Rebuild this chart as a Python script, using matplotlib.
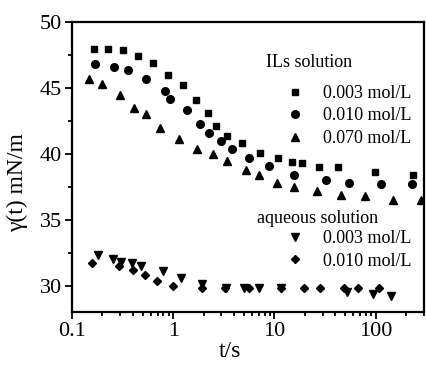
import matplotlib
matplotlib.use('Agg')
import matplotlib.pyplot as plt
from matplotlib.ticker import MultipleLocator, LogLocator, FixedLocator, FixedFormatter

plt.rcParams['font.family'] = ['Liberation Serif', 'DejaVu Serif']

# ILs solution
t_ils_003 = [0.165, 0.227, 0.319, 0.448, 0.63, 0.887, 1.25, 1.67, 2.20, 2.64, 3.39, 4.77,
             7.18, 10.8, 14.9, 18.6, 27.4, 42.3, 98, 232]
g_ils_003 = [48.0, 48.0, 47.9, 47.4, 46.9, 46.0, 45.2, 44.1, 43.1, 42.1, 41.4, 40.8,
             40.1, 39.7, 39.4, 39.3, 39.0, 39.0, 38.6, 38.4]

t_ils_010 = [0.169, 0.260, 0.357, 0.538, 0.828, 0.927, 1.37, 1.83, 2.25, 2.96, 3.80, 5.59,
             8.81, 15.5, 32.2, 54.2, 112, 227]
g_ils_010 = [46.8, 46.6, 46.35, 45.7, 44.8, 44.2, 43.3, 42.3, 41.6, 41.0, 40.4, 39.7,
             39.05, 38.4, 38.0, 37.8, 37.7, 37.7]

t_ils_070 = [0.147, 0.198, 0.298, 0.409, 0.538, 0.739, 1.14, 1.71, 2.47, 3.39, 5.22, 7.02,
             10.6, 15.5, 26.2, 45.2, 78, 148, 279]
g_ils_070 = [45.7, 45.3, 44.45, 43.5, 43.0, 42.0, 41.1, 40.35, 40.0, 39.5, 38.8, 38.4,
             37.8, 37.5, 37.2, 36.9, 36.8, 36.5, 36.5]

# aqueous solution
t_aq_003 = [0.181, 0.254, 0.305, 0.391, 0.480, 0.791, 1.19, 1.92, 3.31, 4.99, 7.02, 11.6,
            51.9, 93.6, 141]
g_aq_003 = [32.3, 32.05, 31.8, 31.7, 31.5, 31.1, 30.6, 30.1, 29.85, 29.85, 29.85, 29.85,
            29.5, 29.4, 29.2]

t_aq_010 = [0.157, 0.291, 0.400, 0.526, 0.690, 0.993, 1.92, 3.24, 5.59, 11.6, 19.5, 28.1,
            48.4, 66.6, 107]
g_aq_010 = [31.75, 31.5, 31.2, 30.8, 30.4, 30.0, 29.8, 29.8, 29.85, 29.85, 29.85, 29.8,
            29.8, 29.85, 29.85]

fig = plt.figure(figsize=(4.26, 3.69), dpi=100)
ax = fig.add_axes([0.169, 0.154, 0.826, 0.786])

ms = 5.5
l1, = ax.plot(t_ils_003, g_ils_003, 's', color='black', ms=5, label='0.003 mol/L')
l2, = ax.plot(t_ils_010, g_ils_010, 'o', color='black', ms=ms, label='0.010 mol/L')
l3, = ax.plot(t_ils_070, g_ils_070, '^', color='black', ms=ms, label='0.070 mol/L')
l4, = ax.plot(t_aq_003, g_aq_003, 'v', color='black', ms=ms, label='0.003 mol/L')
l5, = ax.plot(t_aq_010, g_aq_010, 'D', color='black', ms=4.5, label='0.010 mol/L')

ax.set_xscale('log')
ax.set_xlim(0.1, 300)
ax.set_ylim(28, 50)
ax.yaxis.set_major_locator(MultipleLocator(5))
ax.yaxis.set_minor_locator(MultipleLocator(2.5))
ax.xaxis.set_major_locator(FixedLocator([0.1, 1, 10, 100]))
ax.xaxis.set_major_formatter(FixedFormatter(['0.1', '1', '10', '100']))
ax.xaxis.set_minor_locator(LogLocator(base=10, subs=range(2, 10)))

for s in ax.spines.values():
    s.set_linewidth(1.6)
ax.tick_params(which='both', direction='out', width=1.3, labelsize=16, top=False, right=False)
ax.tick_params(which='major', length=5, pad=2)
ax.tick_params(which='minor', length=3)

ax.set_xlabel('t/s', fontsize=17)
ax.set_ylabel('γ(t) mN/m', fontsize=17)
ax.xaxis.set_label_coords(0.449, -0.10)
ax.yaxis.set_label_coords(-0.125, 0.448)

leg1 = ax.legend(handles=[l1, l2, l3], loc='upper left', bbox_to_anchor=(0.608, 0.783),
                 frameon=False, fontsize=13, borderpad=0, borderaxespad=0,
                 handlelength=1.0, handletextpad=1.05, labelspacing=0.3)
ax.add_artist(leg1)
ax.legend(handles=[l4, l5], loc='upper left', bbox_to_anchor=(0.608, 0.283),
          frameon=False, fontsize=13, borderpad=0, borderaxespad=0,
          handlelength=1.0, handletextpad=1.05, labelspacing=0.3)

ax.text(0.551, 0.862, 'ILs solution', transform=ax.transAxes, fontsize=13, va='center', ha='left')
ax.text(0.526, 0.324, 'aqueous solution', transform=ax.transAxes, fontsize=13, va='center', ha='left')

fig.savefig('out.png', dpi=100)
